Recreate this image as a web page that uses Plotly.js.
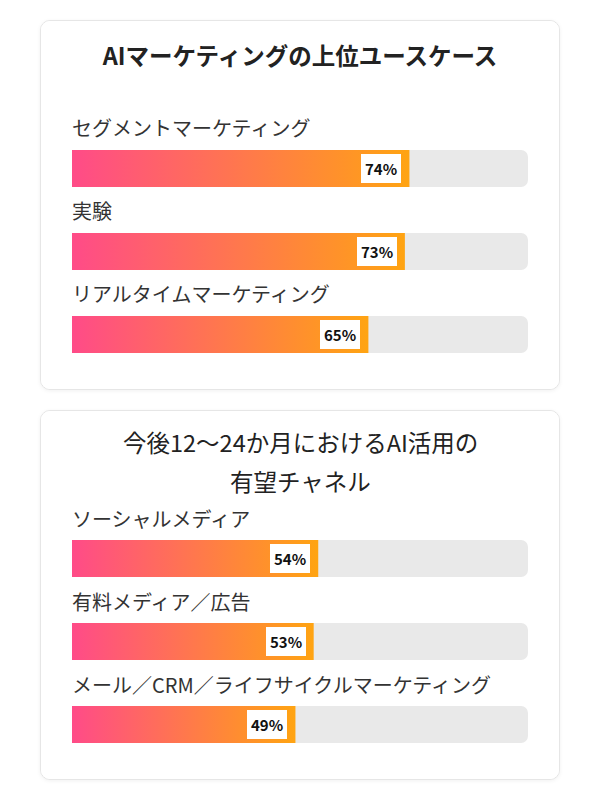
<!DOCTYPE html>
<html>
<head>
<meta charset="utf-8">
<script src="https://cdn.plot.ly/plotly-3.0.1.min.js"></script>
<style>
  body { margin:0; background:#ffffff; width:600px; height:800px; position:relative;
         font-family:"Noto Sans CJK JP", "Noto Sans", sans-serif; }
  .card { position:absolute; left:40px; width:518px; height:368px;
          border:1px solid #e6e6e6; border-radius:10px; background:#fff;
          box-shadow:0 1px 4px rgba(0,0,0,0.06); overflow:hidden; }
</style>
</head>
<body>
<div id="usecases" class="card" style="top:20px;"></div>
<div id="channels" class="card" style="top:410px;"></div>
<script>
//------------------------------------data---------------------------------------------//
var usecase_title = 'AIマーケティングの上位ユースケース';
var usecases = ['セグメントマーケティング', '実験', 'リアルタイムマーケティング'];
var usecase_values = [74, 73, 65];

var channel_title = ['今後12〜24か月におけるAI活用の', '有望チャネル'];
var channels = ['ソーシャルメディア', '有料メディア／広告', 'メール／CRM／ライフサイクルマーケティング'];
var channel_values = [54, 53, 49];

var track_max = 100;

//------------------------------------shared pieces------------------------------------//
var FONT = '"Noto Sans CJK JP", "Noto Sans", sans-serif';

function makeChart(divId, cats, vals, titleLines, titleSize, titleWeight, labelShift) {
  var pos = cats.map(function(c, i){ return i; });

  var track = {
    type:'bar', orientation:'h',
    x: cats.map(function(){ return track_max; }),
    y: pos,
    width: 0.446,
    marker:{color:'#e9e9e9', cornerradius:7, line:{width:0}},
    hoverinfo:'skip'
  };
  var bars = {
    type:'bar', orientation:'h',
    x: vals,
    y: pos,
    width: 0.446,
    marker:{color:'#ff7a50', cornerradius:7, line:{width:0}},
    hoverinfo:'skip'
  };

  var annos = [];
  cats.forEach(function(c, i){
    annos.push({
      x:0, y:i, xref:'x', yref:'y', xanchor:'left', yanchor:'middle',
      yshift:labelShift, xshift:-2,
      text:c, showarrow:false,
      font:{family:FONT, size:20, color:'#333333'}
    });
    annos.push({
      x:vals[i], y:i, xref:'x', yref:'y', xanchor:'right', yanchor:'middle',
      xshift:-8,
      text:'<b>' + vals[i] + '%</b>', showarrow:false,
      bgcolor:'#ffffff', bordercolor:'#ffffff', borderwidth:1, borderpad:3,
      font:{family:FONT, size:15, color:'#111111'}
    });
  });

  var layout = {
    width:518, height:368,
    margin:{l:31, r:31, t:106, b:13},
    paper_bgcolor:'#ffffff', plot_bgcolor:'#ffffff',
    barmode:'overlay',
    showlegend:false,
    title:{
      text: titleLines.length == 1 ? titleLines[0] : '',
      font:{family:FONT, size:titleSize, color:'#222222', weight:titleWeight},
      x:0.5, xanchor:'center', yref:'container', y:1 - 36/368, yanchor:'middle'
    },
    xaxis:{range:[0, track_max], visible:false, fixedrange:true},
    yaxis:{range:[2.5, -0.5], visible:false, fixedrange:true},
    annotations:annos
  };

  // two line title: one line per annotation so the spacing matches
  if (titleLines.length > 1) {
    var shifts = [75, 36];
    titleLines.forEach(function(t, k){
      layout.annotations.push({
        x:0.5, y:1, xref:'paper', yref:'paper', xanchor:'center', yanchor:'middle',
        yshift:shifts[k], text:t, showarrow:false,
        font:{family:FONT, size:titleSize, color:'#222222', weight:titleWeight}
      });
    });
  }

  var config = {staticPlot:true, displayModeBar:false};
  return Plotly.newPlot(divId, [track, bars], layout, config).then(function(gd){
    paintGradient(gd, divId);
    gd.on('plotly_afterplot', function(){ paintGradient(gd, divId); });
  });
}

// bars: pink -> orange along each bar
function paintGradient(gd, divId) {
  var defs = gd.querySelector('.main-svg defs');
  var id = 'grad-' + divId;
  if (!document.getElementById(id)) {
    var ns = 'http://www.w3.org/2000/svg';
    var g = document.createElementNS(ns, 'linearGradient');
    g.setAttribute('id', id);
    g.setAttribute('x1', '0'); g.setAttribute('x2', '1');
    g.setAttribute('y1', '0'); g.setAttribute('y2', '0');
    [['0', '#ff4b88'], ['1', '#ffa412']].forEach(function(s){
      var st = document.createElementNS(ns, 'stop');
      st.setAttribute('offset', s[0]);
      st.setAttribute('stop-color', s[1]);
      g.appendChild(st);
    });
    defs.appendChild(g);
  }
  var traces = gd.querySelectorAll('.barlayer .trace');
  if (traces.length > 1) {
    traces[1].querySelectorAll('path').forEach(function(p){
      p.style.fill = 'url(#' + id + ')';
    });
  }
}

makeChart('usecases', usecases, usecase_values, [usecase_title], 23.5, 'bold', 41);
makeChart('channels', channels, channel_values, channel_title, 23.5, 'normal', 40);
</script>
</body>
</html>
